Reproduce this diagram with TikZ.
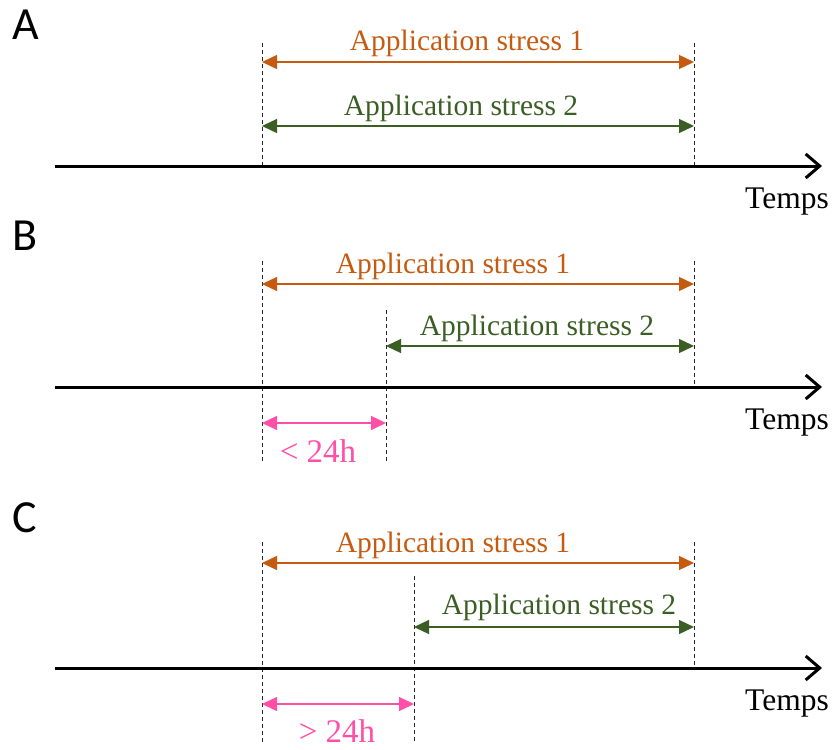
\documentclass[tikz,border=0pt]{standalone}
\usepackage{fontspec}
\setmainfont{Liberation Serif}
\newfontfamily\letfont{Carlito}
\usetikzlibrary{arrows.meta}
\definecolor{corange}{HTML}{C55A11}
\definecolor{cgreen}{HTML}{3B5E24}
\definecolor{cpink}{HTML}{FF4FA7}
\tikzset{
  axisline/.style={line width=3pt,-{Straight Barb[length=14pt,width=24pt,line width=3pt]}},
  guide/.style={dash pattern=on 4pt off 3pt,line width=1pt,black!85},
  span/.style={line width=1.3pt,{Triangle[length=15pt,width=14pt]}-{Triangle[length=15pt,width=14pt]}},
  lbl/.style={font=\fontsize{29.5}{31}\selectfont,anchor=base,inner sep=0pt},
  timelbl/.style={font=\fontsize{31.5}{33}\selectfont,anchor=base,inner sep=0pt},
  pinklbl/.style={font=\fontsize{33}{35}\selectfont,anchor=base,inner sep=0pt,text=cpink},
  letter/.style={font=\letfont\fontsize{46}{48}\selectfont,anchor=base west,inner sep=0pt},
}
\begin{document}
\begin{tikzpicture}[x=1pt,y=-1pt]
\useasboundingbox (0,0) rectangle (837,749);
% ---------- Panel A ----------
\node[letter] (la) at (12,40) {A};
\coordinate (a0) at (55,166);
\coordinate (a1) at (822,166);
\coordinate (aLt) at (262,43);
\coordinate (aLb) at (262,166);
\coordinate (aRt) at (694,43);
\coordinate (aRb) at (694,166);
\coordinate (ao1) at (262,62);
\coordinate (ao2) at (694,62);
\coordinate (ag1) at (262,126);
\coordinate (ag2) at (694,126);
\draw[guide] (aLt) -- (aLb);
\draw[guide] (aRt) -- (aRb);
\draw[span,corange] (ao1) -- (ao2);
\draw[span,cgreen] (ag1) -- (ag2);
\draw[axisline] (a0) -- (a1);
\node[lbl,text=corange] (aol) at (467,51) {Application stress 1};
\node[lbl,text=cgreen] (agl) at (461,115) {Application stress 2};
\node[timelbl] (at) at (787,208) {Temps};
% ---------- Panel B ----------
\node[letter] (lb) at (12,250) {B};
\coordinate (b0) at (55,387);
\coordinate (b1) at (822,387);
\coordinate (bLt) at (262,261);
\coordinate (bLb) at (262,461);
\coordinate (bMt) at (386,310);
\coordinate (bMb) at (386,461);
\coordinate (bRt) at (694,261);
\coordinate (bRb) at (694,387);
\coordinate (bo1) at (262,284);
\coordinate (bo2) at (694,284);
\coordinate (bg1) at (386,346);
\coordinate (bg2) at (694,346);
\coordinate (bp1) at (262,423);
\coordinate (bp2) at (386,423);
\draw[guide] (bLt) -- (bLb);
\draw[guide] (bMt) -- (bMb);
\draw[guide] (bRt) -- (bRb);
\draw[span,corange] (bo1) -- (bo2);
\draw[span,cgreen] (bg1) -- (bg2);
\draw[span,cpink] (bp1) -- (bp2);
\draw[axisline] (b0) -- (b1);
\node[lbl,text=corange] (bol) at (453,273) {Application stress 1};
\node[lbl,text=cgreen] (bgl) at (537,335) {Application stress 2};
\node[pinklbl] (bpl) at (318,462) {< 24h};
\node[timelbl] (bt) at (787,429) {Temps};
% ---------- Panel C ----------
\node[letter] (lc) at (12,532) {C};
\coordinate (c0) at (55,668);
\coordinate (c1) at (822,668);
\coordinate (cLt) at (262,542);
\coordinate (cLb) at (262,742);
\coordinate (cMt) at (414,576);
\coordinate (cMb) at (414,742);
\coordinate (cRt) at (694,542);
\coordinate (cRb) at (694,668);
\coordinate (co1) at (262,563);
\coordinate (co2) at (694,563);
\coordinate (cg1) at (414,627);
\coordinate (cg2) at (694,627);
\coordinate (cp1) at (262,704);
\coordinate (cp2) at (414,704);
\draw[guide] (cLt) -- (cLb);
\draw[guide] (cMt) -- (cMb);
\draw[guide] (cRt) -- (cRb);
\draw[span,corange] (co1) -- (co2);
\draw[span,cgreen] (cg1) -- (cg2);
\draw[span,cpink] (cp1) -- (cp2);
\draw[axisline] (c0) -- (c1);
\node[lbl,text=corange] (col) at (453,552) {Application stress 1};
\node[lbl,text=cgreen] (cgl) at (559,614) {Application stress 2};
\node[pinklbl] (cpl) at (337,742) {> 24h};
\node[timelbl] (ct) at (787,710) {Temps};
\end{tikzpicture}
\end{document}
